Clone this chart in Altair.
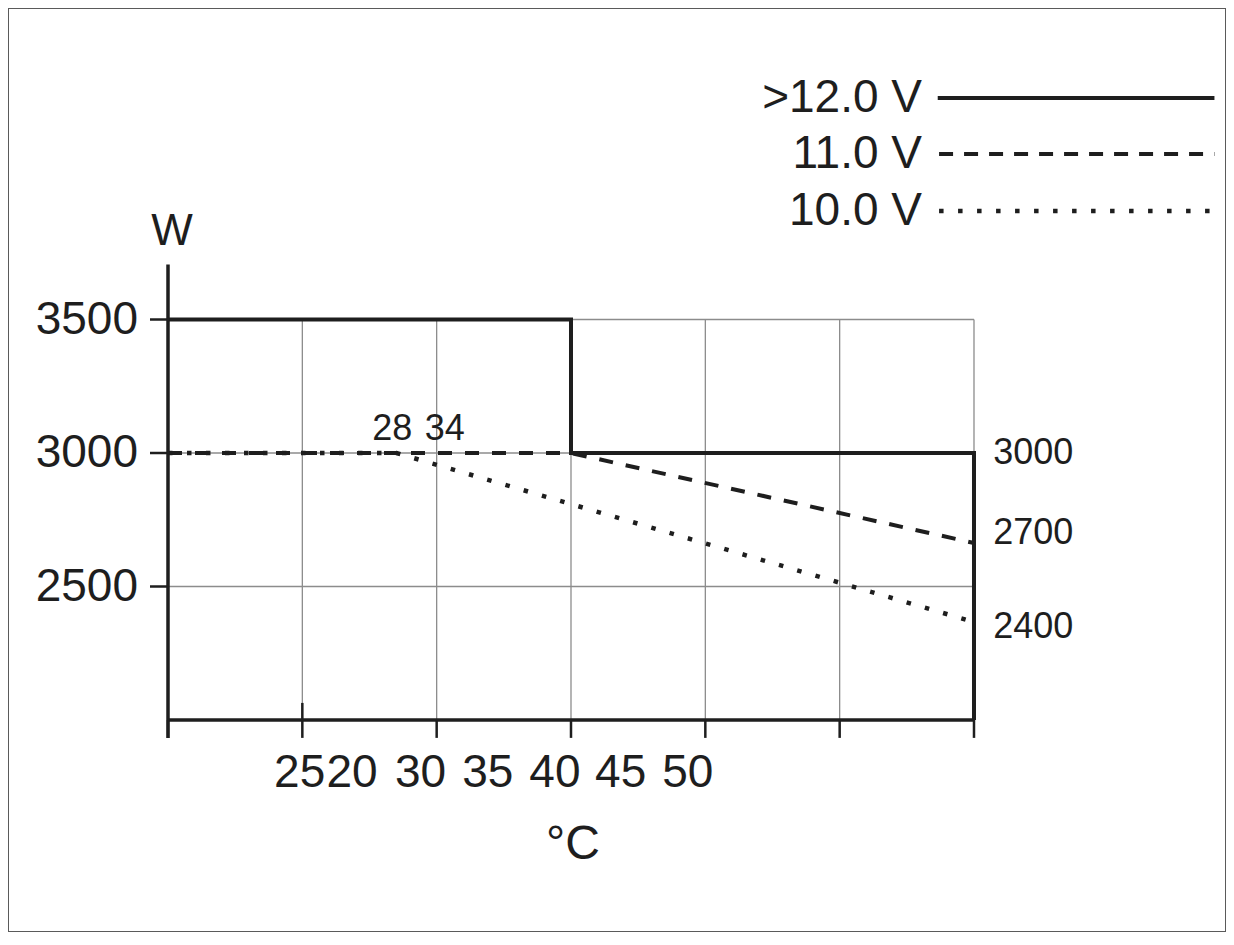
import altair as alt
import pandas as pd

# ---- data ----
solid_T = [10, 40, 40, 70, 70]
solid_W = [3500, 3500, 3000, 3000, 2000]
dash_T = [10, 40, 70]
dash_W = [3000, 3000, 2663]
dot_T = [10, 27, 70]
dot_W = [3000, 3000, 2367]

grid_T = [20, 30, 40, 50, 60, 70]
grid_W = [3500, 3000, 2500]
tick_T = [10, 20, 30, 40, 50, 60, 70]

y_labels = ["3500", "3000", "2500"]
end_labels = ["3000", "2700", "2400"]
end_label_W = [3000, 2700, 2350]
x_labels = ["25", "20", "30", "35", "40", "45", "50"]
x_label_T = [19.8, 23.7, 28.8, 33.8, 38.8, 43.7, 48.7]
note_labels = ["28", "34"]
note_T = [26.7, 30.6]
legend_labels = [">12.0 V", "11.0 V", "10.0 V"]
legend_W = [4330, 4120, 3906]

# ---- scales ----
W, H = 1218, 924
xs = alt.Scale(domain=[-1.911, 88.76], nice=False, zero=False)
ys = alt.Scale(domain=[1206.0, 4666.7], nice=False, zero=False)
FONT = "Liberation Sans"
INK = "#1e1e1e"
GRID = "#8c8c8c"


def X(f="x"):
    return alt.X(f"{f}:Q", scale=xs, axis=None)


def Y(f="y"):
    return alt.Y(f"{f}:Q", scale=ys, axis=None)


def line_df(T, Wv):
    return pd.DataFrame({"x": T, "y": Wv, "i": range(len(T))})


# gridlines
vgrid = alt.Chart(pd.DataFrame({"x": grid_T, "y": 2000, "y2": 3500})).mark_rule(
    color=GRID, strokeWidth=1.3
).encode(x=X(), y=Y(), y2="y2:Q")
hgrid = alt.Chart(pd.DataFrame({"y": grid_W, "x": 10, "x2": 70})).mark_rule(
    color=GRID, strokeWidth=1.3
).encode(y=Y(), x=X(), x2="x2:Q")

# axes
yaxis = alt.Chart(pd.DataFrame({"x": [10], "y": [1933], "y2": [3706]})).mark_rule(
    color=INK, strokeWidth=3.5
).encode(x=X(), y=Y(), y2="y2:Q")
xaxis = alt.Chart(pd.DataFrame({"y": [2000], "x": [10], "x2": [70]})).mark_rule(
    color=INK, strokeWidth=3.5
).encode(y=Y(), x=X(), x2="x2:Q")
yticks = alt.Chart(pd.DataFrame({"y": grid_W, "x": 8.66, "x2": 10})).mark_rule(
    color=INK, strokeWidth=2.5
).encode(y=Y(), x=X(), x2="x2:Q")
xticks = alt.Chart(pd.DataFrame({"x": tick_T, "y": 1933, "y2": 2000})).mark_rule(
    color=INK, strokeWidth=2.5
).encode(x=X(), y=Y(), y2="y2:Q")
xtick_up = alt.Chart(pd.DataFrame({"x": [20], "y": [2000], "y2": [2064]})).mark_rule(
    color=INK, strokeWidth=2.5
).encode(x=X(), y=Y(), y2="y2:Q")

# series
dotted = alt.Chart(line_df(dot_T, dot_W)).mark_line(
    color=INK, strokeWidth=4.5, strokeDash=[4.5, 14.5], strokeCap="butt"
).encode(x=X(), y=Y(), order="i:Q")
dashed = alt.Chart(line_df(dash_T, dash_W)).mark_line(
    color=INK, strokeWidth=4, strokeDash=[14, 13], strokeCap="butt"
).encode(x=X(), y=Y(), order="i:Q")
solid = alt.Chart(line_df(solid_T, solid_W)).mark_line(
    color=INK, strokeWidth=4, strokeJoin="miter"
).encode(x=X(), y=Y(), order="i:Q")

# texts
def text_layer(df, size, align="center"):
    return alt.Chart(df).mark_text(
        font=FONT, fontSize=size, color=INK, align=align, baseline="middle"
    ).encode(x=X(), y=Y(), text="t:N")


t_ylab = text_layer(pd.DataFrame({"x": 7.77, "y": grid_W, "t": y_labels}), 46, "right")
t_end = text_layer(pd.DataFrame({"x": 71.43, "y": end_label_W, "t": end_labels}), 36, "left")
t_xlab = text_layer(pd.DataFrame({"x": x_label_T, "y": 1801, "t": x_labels}), 46)
t_note = text_layer(pd.DataFrame({"x": note_T, "y": 3090, "t": note_labels}), 36)
t_W = text_layer(pd.DataFrame({"x": [10.3], "y": [3828], "t": ["W"]}), 44)
t_C = text_layer(pd.DataFrame({"x": [40.15], "y": [1532], "t": ["°C"]}), 48)
t_leg = text_layer(pd.DataFrame({"x": 66.13, "y": legend_W, "t": legend_labels}), 46, "right")

leg_solid = alt.Chart(pd.DataFrame({"y": [legend_W[0]], "x": [67.3], "x2": [87.9]})).mark_rule(
    color=INK, strokeWidth=4
).encode(y=Y(), x=X(), x2="x2:Q")
leg_dash = alt.Chart(pd.DataFrame({"y": [legend_W[1]], "x": [67.4], "x2": [87.9]})).mark_rule(
    color=INK, strokeWidth=4, strokeDash=[14, 11], strokeCap="butt"
).encode(y=Y(), x=X(), x2="x2:Q")
leg_dot = alt.Chart(pd.DataFrame({"y": [legend_W[2]], "x": [67.4], "x2": [87.9]})).mark_rule(
    color=INK, strokeWidth=4.5, strokeDash=[4.5, 14.5], strokeCap="butt"
).encode(y=Y(), x=X(), x2="x2:Q")

chart = alt.layer(
    vgrid, hgrid, yticks, xticks, xtick_up, dotted, dashed, solid, yaxis, xaxis,
    t_ylab, t_end, t_xlab, t_note, t_W, t_C, t_leg, leg_solid, leg_dash, leg_dot,
).properties(
    width=W, height=H, padding=0, background="white"
).configure_view(
    stroke="#5a5a5a", strokeWidth=2
)

chart.save("out.html", embed_options={"renderer": "svg", "actions": False})
